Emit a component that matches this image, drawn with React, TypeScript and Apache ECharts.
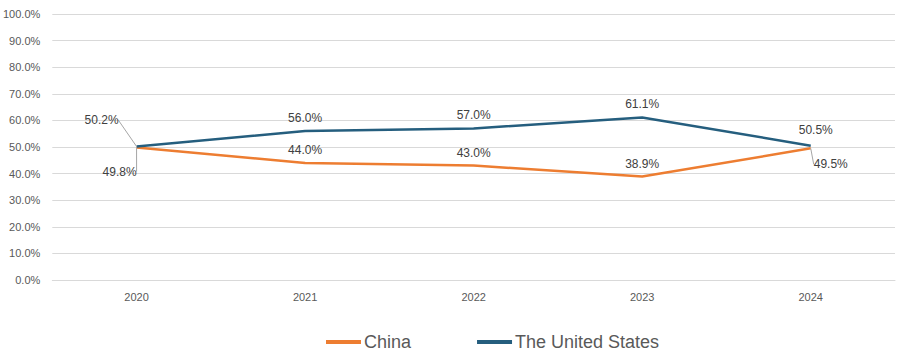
import React, { useEffect, useRef } from "react";
import * as echarts from "echarts";

const years = ["2020", "2021", "2022", "2023", "2024"];
const china = [49.8, 44.0, 43.0, 38.9, 49.5];
const us = [50.2, 56.0, 57.0, 61.1, 50.5];
const yTicks = [0, 10, 20, 30, 40, 50, 60, 70, 80, 90, 100];

const FONT = "'Liberation Sans', Arial, sans-serif";

export default function App() {
  const ref = useRef<HTMLDivElement>(null);
  useEffect(() => {
    if (!ref.current) return;
    const chart = echarts.init(ref.current, undefined, { renderer: "svg" });
    const labelStyle = {
      show: true,
      fontSize: 12,
      distance: 7,
      color: "#404040",
      fontFamily: FONT,
      formatter: (p: any) => Number(p.value).toFixed(1) + "%",
    };
    const leader = { show: true, lineStyle: { color: "#a6a6a6", width: 1 } };
    const withLeaders = (arr: number[], idx: number[]) =>
      arr.map((v, i) => (idx.includes(i) ? { value: v, labelLine: leader } : v));
    chart.setOption({
      animation: false,
      grid: { left: 51, right: 5, top: 14, bottom: 76 },
      legend: {
        top: 328,
        left: 321,
        itemWidth: 35,
        itemHeight: 4,
        itemGap: 66,
        icon: "rect",
        textStyle: { fontSize: 18, color: "#595959", fontFamily: FONT, padding: [0, 0, 0, -2] },
        data: ["China", "The United States"],
      },
      xAxis: {
        type: "category",
        data: years,
        boundaryGap: true,
        axisLine: { lineStyle: { color: "#d9d9d9" } },
        axisTick: { show: false },
        axisLabel: { fontSize: 11, color: "#595959", margin: 11, fontFamily: FONT },
      },
      yAxis: {
        type: "value",
        min: yTicks[0],
        max: yTicks[yTicks.length - 1],
        interval: 10,
        axisLine: { show: false },
        axisTick: { show: false },
        splitLine: { lineStyle: { color: "#d9d9d9" } },
        axisLabel: {
          fontSize: 11,
          color: "#595959",
          margin: 12,
          fontFamily: FONT,
          formatter: (v: number) => v.toFixed(1) + "%",
        },
      },
      series: [
        {
          name: "China",
          type: "line",
          data: withLeaders(china, [0, 4]),
          symbol: "circle",
          symbolSize: 0.01,
          showSymbol: true,
          lineStyle: { color: "#ED7D31", width: 2.5 },
          itemStyle: { color: "#ED7D31" },
          label: { ...labelStyle, position: "top" },
          labelLine: { show: false },
          labelLayout: (p: any) => {
            if (p.dataIndex === 0) return { dx: -17, dy: 37 };
            if (p.dataIndex === 4) return { dx: 20, dy: 29 };
            return {};
          },
        },
        {
          name: "The United States",
          type: "line",
          data: withLeaders(us, [0]),
          symbol: "circle",
          symbolSize: 0.01,
          showSymbol: true,
          lineStyle: { color: "#255E7E", width: 2.5 },
          itemStyle: { color: "#255E7E" },
          label: { ...labelStyle, position: "top" },
          labelLine: { show: false },
          labelLayout: (p: any) => {
            if (p.dataIndex === 0) return { dx: -35, dy: -13 };
            if (p.dataIndex === 4) return { dx: 5, dy: -3 };
            return {};
          },
        },
      ],
    });
    return () => chart.dispose();
  }, []);
  return <div ref={ref} style={{ width: 900, height: 356, position: "absolute", left: 0, top: 0 }} />;
}
